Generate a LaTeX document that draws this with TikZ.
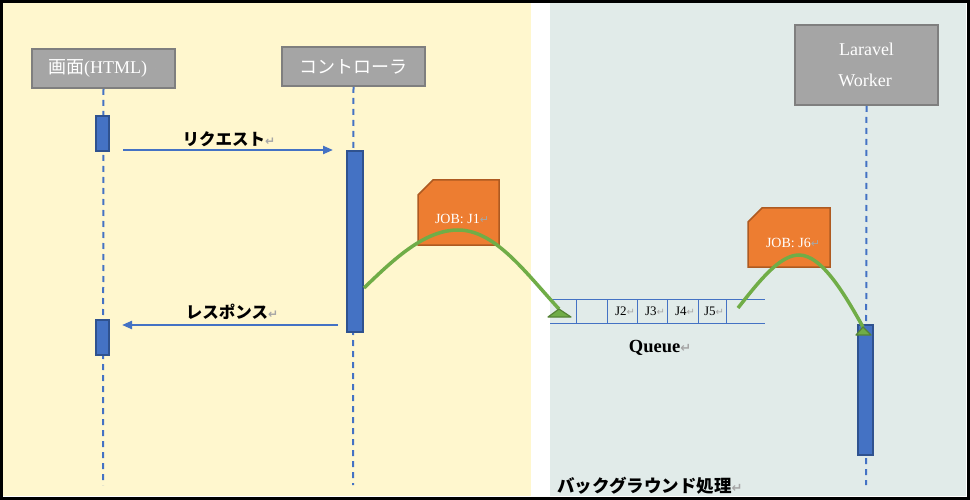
\documentclass[tikz,border=0pt]{standalone}
\usepackage{fontspec}
\setmainfont{Liberation Serif}
\newfontfamily\jp{Noto Sans CJK JP}
\newfontfamily\symf{DejaVu Sans}
\usetikzlibrary{arrows.meta,shapes.misc}
\definecolor{bgY}{RGB}{255,247,206}
\definecolor{bgB}{RGB}{225,235,233}
\definecolor{boxG}{RGB}{165,165,165}
\definecolor{boxE}{RGB}{127,127,127}
\definecolor{lineB}{RGB}{68,114,196}
\definecolor{actE}{RGB}{47,82,143}
\definecolor{jobO}{RGB}{237,125,49}
\definecolor{jobE}{RGB}{174,90,33}
\definecolor{grn}{RGB}{112,173,71}
\definecolor{grnD}{RGB}{84,130,53}
\newcommand{\retm}[1]{{\color{black!35}\symf\fontsize{#1}{#1}\selectfont ↵}}
\tikzset{
  actor/.style={draw=boxE, line width=2pt, fill=boxG, text=white, inner sep=0pt, font=\fontsize{18}{31}\selectfont},
  life/.style={draw=lineB, line width=2pt, dash pattern=on 6pt off 5pt},
  act/.style={draw=actE, line width=1.5pt, fill=lineB},
  msg/.style={draw=lineB, line width=2.2pt, -{Triangle[length=10pt,width=8pt]}},
  lbl/.style={font=\jp\bfseries\fontsize{16.5}{16.5}\selectfont, inner sep=0pt},
  jobbox/.style={draw=jobE, line width=1.5pt, fill=jobO},
  jobtxt/.style={text=white, font=\fontsize{14}{14}\selectfont, inner sep=0pt},
  flow/.style={draw=grn, line width=3.5pt},
  flowhead/.style={fill=grn, draw=grnD, line width=1.2pt, line join=round},
  qline/.style={draw=lineB, line width=1pt},
  qtxt/.style={font=\fontsize{13}{13}\selectfont, inner sep=0pt}
}
\begin{document}
\begin{tikzpicture}[x=1pt,y=-1pt]
\useasboundingbox (0,0) rectangle (970,500);
% backgrounds
\fill[white] (0,0) rectangle (970,500);
\fill[bgY] (3,3) rectangle (531,496);
\fill[bgB] (550,3) rectangle (966,496);
\draw[black, line width=2.5pt] (1.5,1.5) rectangle (968.5,498.5);
% actors
\node[actor, minimum width=143pt, minimum height=39pt] (html) at (103.5,68.5) {\jp 画面\rmfamily(HTML)\retm{14}};
\node[actor, minimum width=143pt, minimum height=39pt] (ctrl) at (353.5,66.5) {\jp コントローラ};
\node[actor, minimum width=143pt, minimum height=80pt, align=center] (wrk) at (866.5,65) {Laravel\\ \hphantom{x}Worker\retm{14}};
% lifelines
\coordinate (e1) at (103,485);
\coordinate (e2) at (353,485);
\coordinate (e3) at (866,485);
\draw[life] (html.south) -- (e1);
\draw[life] (ctrl.south) -- (e2);
\draw[life] (wrk.south) -- (e3);
% activations
\node[act, minimum width=13pt, minimum height=35pt, inner sep=0pt] (a1) at (102.5,133.5) {};
\node[act, minimum width=16pt, minimum height=181pt, inner sep=0pt] (a2) at (355,241.5) {};
\node[act, minimum width=13pt, minimum height=35pt, inner sep=0pt] (a3) at (102.5,337.5) {};
\node[act, minimum width=15pt, minimum height=130pt, inner sep=0pt] (a4) at (865.5,390) {};
% messages
\coordinate (r1) at (123,150);
\coordinate (r2) at (333,150);
\draw[msg] (r1) -- (r2);
\node[lbl] (reqlbl) at (229,139) {リクエスト\retm{12}};
\coordinate (s1) at (338,325);
\coordinate (s2) at (122,325);
\draw[msg] (s1) -- (s2);
\node[lbl] (reslbl) at (232,312) {レスポンス\retm{12}};
% job boxes
\draw[jobbox] (418,195) -- (433,180) -- (499,180) -- (499,245) -- (418,245) -- cycle;
\node[jobtxt] (j1) at (462,219) {JOB: J1\retm{11}};
\draw[jobbox] (748,222) -- (762,208) -- (830,208) -- (830,267) -- (748,267) -- cycle;
\node[jobtxt] (j6) at (793,243) {JOB: J6\retm{11}};
% queue
\draw[qline] (550,299) -- (765,299);
\draw[qline] (550,323) -- (765,323);
\foreach \x in {576,607,637,667,698,726} \draw[qline] (\x,299) -- (\x,323);
\node[qtxt] (q2) at (625,311) {J2\retm{10}};
\node[qtxt] (q3) at (655,311) {J3\retm{10}};
\node[qtxt] (q4) at (685,311) {J4\retm{10}};
\node[qtxt] (q5) at (714,311) {J5\retm{10}};
\node[font=\bfseries\fontsize{18.5}{18.5}\selectfont, inner sep=0pt] (qlbl) at (660,348) {Queue\retm{13}};
% flows
\coordinate (f1s) at (364,288);
\coordinate (f1p) at (458,230);
\coordinate (f1e) at (559,309);
\draw[flow] (f1s) .. controls (395,258) and (425,230) .. (f1p) .. controls (495,230) and (525,272) .. (f1e);
\filldraw[flowhead] (f1e) -- (571,317) -- (548,317) -- cycle;
\coordinate (f2s) at (738,308);
\coordinate (f2p) at (799,255);
\coordinate (f2e) at (863,327);
\draw[flow] (f2s) .. controls (760,280) and (780,255) .. (f2p) .. controls (822,255) and (845,295) .. (f2e);
\filldraw[flowhead] (f2e) -- (871,335) -- (856,335) -- cycle;
% background label
\node[lbl, font=\jp\bfseries\fontsize{17.5}{17.5}\selectfont, anchor=west] (bglbl) at (557,486) {バックグラウンド処理\retm{13}};
\end{tikzpicture}
\end{document}
